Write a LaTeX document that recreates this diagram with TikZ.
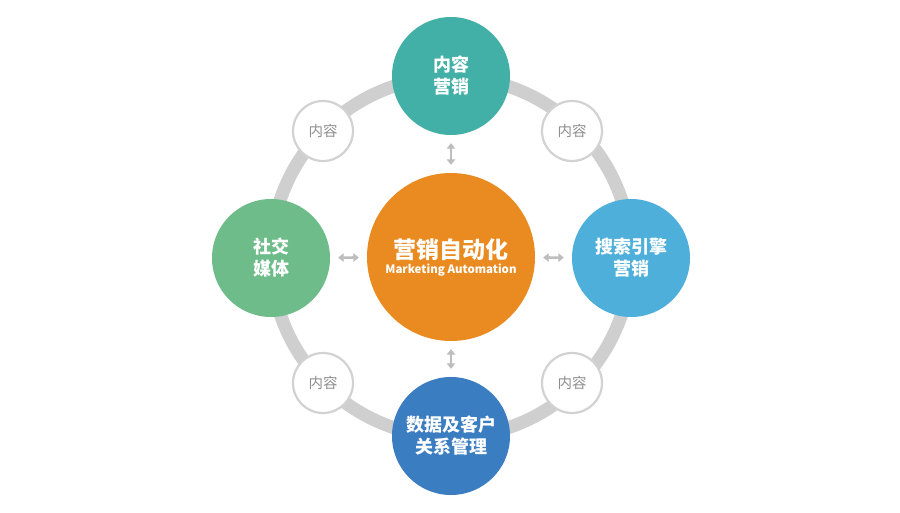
\documentclass[tikz,border=0pt]{standalone}
\usepackage{fontspec}
\newfontfamily\cjk{Noto Sans CJK SC}
\usetikzlibrary{arrows.meta}
\definecolor{ringgray}{HTML}{CFCFCF}
\definecolor{smallborder}{HTML}{D2D2D2}
\definecolor{smalltext}{HTML}{8F8F8F}
\definecolor{arrowgray}{HTML}{BDBDBD}
\definecolor{cteal}{HTML}{43B0A7}
\definecolor{corange}{HTML}{E98B20}
\definecolor{cblue}{HTML}{4EAFDA}
\definecolor{cdarkblue}{HTML}{3B7DC1}
\definecolor{cgreen}{HTML}{6FBC8B}
\begin{document}
\begin{tikzpicture}[x=1pt,y=-1pt,
  outer/.style={circle,minimum size=118pt,inner sep=0pt,text=white,align=center,
    font=\cjk\bfseries\fontsize{18}{22}\selectfont},
  hub/.style={circle,minimum size=168pt,inner sep=0pt,text=white,align=center,fill=corange},
  small/.style={circle,minimum size=60pt,inner sep=0pt,fill=white,draw=smallborder,line width=2.2pt,
    text=smalltext,font=\cjk\fontsize{14.5}{16}\selectfont},
  link/.style={arrowgray,line width=2.6pt,{Triangle[width=8.5pt,length=5.5pt]}-{Triangle[width=8.5pt,length=5.5pt]},
    shorten <=8pt,shorten >=8pt}]
\useasboundingbox (0,0) rectangle (900,513);
\fill[white] (0,0) rectangle (900,513);
\coordinate (ringc) at (451,257);
\draw[ringgray,line width=13pt] (ringc) circle (180);
\node[hub] (c) at (451,257) {{\cjk\bfseries\fontsize{23}{26}\selectfont 营销自动化}\\[3pt]{\cjk\bfseries\fontsize{11.5}{13}\selectfont Marketing Automation}};
\node[outer,fill=cteal] (t) at (451,76) {内容\\营销};
\node[outer,fill=cblue] (r) at (631,258) {搜索引擎\\营销};
\node[outer,fill=cdarkblue] (b) at (451,436) {数据及客户\\关系管理};
\node[outer,fill=cgreen] (l) at (271,258) {社交\\媒体};
\node[small] (s1) at (323,131) {内容};
\node[small] (s2) at (572,131) {内容};
\node[small] (s3) at (323,383) {内容};
\node[small] (s4) at (572,383) {内容};
\draw[link] (c) -- (t);
\draw[link] (c) -- (r);
\draw[link] (c) -- (b);
\draw[link] (c) -- (l);
\end{tikzpicture}
\end{document}
